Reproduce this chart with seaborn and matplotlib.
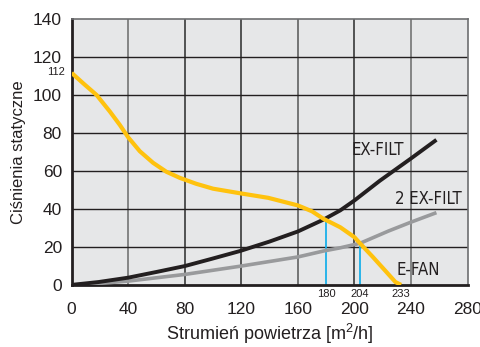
import matplotlib
matplotlib.use("Agg")
import matplotlib.pyplot as plt
import seaborn as sns
import pandas as pd

# Fan characteristic (E-FAN) and system curves
fan_flow = [0, 8.2, 17.6, 27, 34, 40, 48.2, 57.6, 67, 76.5, 88, 100, 119, 139,
            160, 170, 178, 190, 200, 204, 213, 222, 229, 233]
fan_pressure = [111.5, 106, 99.9, 91.2, 84.2, 77.6, 70.3, 64.2, 59.5, 56.3, 53.2, 50.6, 48.2, 45.8,
                41.8, 38.7, 34.8, 30.3, 25.1, 21.8, 14.7, 7.3, 1.5, 0]

exfilt_flow = [0, 19, 40, 60, 80, 99, 119, 140, 160, 178, 190, 200, 218, 240, 258]
exfilt_pressure = [0, 1.5, 3.8, 6.8, 9.9, 13.7, 17.8, 22.8, 28.1, 34.3, 39.2, 44.4, 54.8, 66.5, 76.3]

exfilt2_flow = [0, 20, 40, 80, 119, 160, 178, 190, 204, 224, 240, 258]
exfilt2_pressure = [0, 0.8, 2, 5.5, 9.8, 14.7, 17.8, 19.5, 21.9, 28.3, 33, 38]

# Operating points
op_flow = [180, 204]
op_pressure = [34.3, 21.8]
fan_zero_flow = 233
fan_max_pressure = 112

x_ticks = [0, 40, 80, 120, 160, 200, 240, 280]
y_ticks = [0, 20, 40, 60, 80, 100, 120, 140]

curve_labels = ["EX-FILT", "2 EX-FILT", "E-FAN"]

sns.set_theme(style="white")
plt.rcParams["font.family"] = ["Liberation Sans", "DejaVu Sans"]
plt.rcParams["mathtext.fontset"] = "custom"
plt.rcParams["mathtext.rm"] = "Liberation Sans"
plt.rcParams["mathtext.it"] = "Liberation Sans"
plt.rcParams["mathtext.default"] = "regular"

fig = plt.figure(figsize=(4.81, 3.47), dpi=100)
ax = fig.add_axes([0.149, 0.179, 0.823, 0.767])
ax.set_facecolor("#e6e7e8")

fan_df = pd.DataFrame({"flow": fan_flow, "pressure": fan_pressure})
ex_df = pd.DataFrame({"flow": exfilt_flow, "pressure": exfilt_pressure})
ex2_df = pd.DataFrame({"flow": exfilt2_flow, "pressure": exfilt2_pressure})

ax.set_xlim(0, 280)
ax.set_ylim(0, 140)
ax.set_xticks(x_ticks)
ax.set_yticks(y_ticks)

# grid
grid_x_colors = ["#6a6a6a", "#2a2a2a", "#2a2a2a", "#555555", "#2a2a2a", "#6a6a6a"]
for xv, c in zip(x_ticks[1:-1], grid_x_colors):
    ax.axvline(xv, color=c, lw=1.1, zorder=1)
for yv in y_ticks[1:-1]:
    ax.axhline(yv, color="#231f20", lw=1.0, zorder=1)

# operating point markers
ax.vlines(op_flow, 0, op_pressure, color="#1ab0ea", lw=1.3, zorder=2)

line_kw = dict(sort=False, solid_joinstyle="round", solid_capstyle="butt")
sns.lineplot(data=ex2_df, x="flow", y="pressure", ax=ax, color="#999a9c",
             lw=2.6, zorder=3, **line_kw)
sns.lineplot(data=ex_df, x="flow", y="pressure", ax=ax, color="#231f20",
             lw=2.8, zorder=4, **line_kw)
sns.lineplot(data=fan_df, x="flow", y="pressure", ax=ax, color="#ffc20e",
             lw=3.0, zorder=5, **line_kw)

for sp in ["left", "bottom"]:
    ax.spines[sp].set_color("#231f20")
    ax.spines[sp].set_linewidth(2.0)
for sp in ["top", "right"]:
    ax.spines[sp].set_color("#6d6e70")
    ax.spines[sp].set_linewidth(1.2)

ax.tick_params(axis="both", length=0, labelsize=12.5, colors="#231f20")
ax.tick_params(axis="x", pad=12.5)
ax.tick_params(axis="y", pad=7)
ax.set_xlabel("Strumień powietrza [m$^2$/h]", fontsize=13, color="#231f20", labelpad=3)
ax.set_ylabel("Ciśnienia statyczne", fontsize=12, color="#231f20", labelpad=5)

# curve names
name_kw = dict(fontsize=12, color="#231f20", family="DejaVu Sans", fontstretch="condensed")
ax.text(235, 71.2, curve_labels[0], ha="right", va="center", **name_kw)
ax.text(276, 45, curve_labels[1], ha="right", va="center", **name_kw)
ax.text(245, 7.6, curve_labels[2], ha="center", va="center", **name_kw)

# value annotations
small = dict(fontsize=8, color="#231f20")
for fx in op_flow + [fan_zero_flow]:
    ax.text(fx, -2.0, str(fx), ha="center", va="top", **small)
ax.text(-5, fan_max_pressure, str(fan_max_pressure), ha="right", va="center", **small)

fig.savefig("out.png", dpi=100)
